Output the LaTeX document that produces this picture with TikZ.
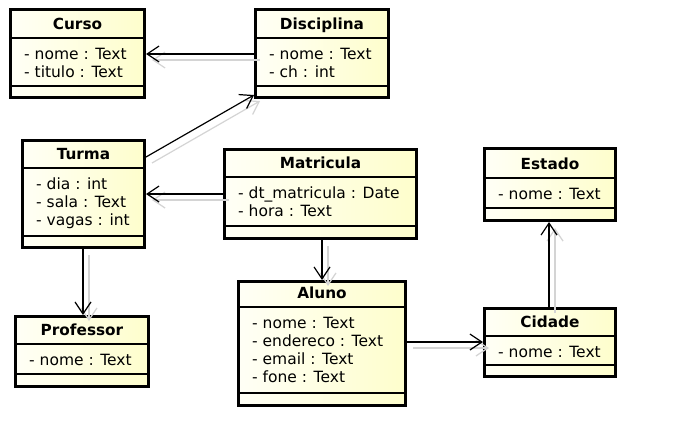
\documentclass[tikz,border=0pt]{standalone}
\usepackage{fontspec}
\setmainfont{DejaVu Sans}
\usetikzlibrary{arrows.meta,backgrounds}
\definecolor{boxshadow}{HTML}{DCDCDC}
\definecolor{lineshadow}{HTML}{D4D4D4}
\definecolor{ylwA}{HTML}{FFFFF6}
\definecolor{ylwB}{HTML}{FEFECC}
\tikzset{
  umlbox/.style={draw=black, line width=3.2pt, left color=ylwA, right color=ylwB, inner sep=0pt},
  sepline/.style={line width=1.2pt},
  titletext/.style={anchor=base, inner sep=0pt, font=\fontsize{15.3}{18}\selectfont\bfseries},
  attrtext/.style={anchor=base west, inner sep=0pt, font=\fontsize{15.5}{18}\selectfont},
  assoc/.style={line width=1.2pt, -{Straight Barb[length=12pt,width=16pt]}},
  assocshadow/.style={assoc, draw=lineshadow},
}
\newcommand\umlclass[9]{%
  \begin{pgfonlayer}{background}
    \fill[boxshadow] (#2+6,#3+6) rectangle (#4+6,#5+6);
  \end{pgfonlayer}
  \node[umlbox, minimum width={#4-#2-3.2}, minimum height={#5-#3-3.2}] (#1) at ({(#2+#4)/2},{(#3+#5)/2}) {};
  \draw[sepline] (#2+1.6,#6) -- (#4-1.6,#6);
  \draw[sepline] (#2+1.6,#7) -- (#4-1.6,#7);
  \node[titletext] (#1-t) at ({(#2+#4)/2},#6-8.5) {#8};
  \foreach \attr [count=\i from 0] in {#9} {\node[attrtext] (#1-a\i) at (#2+15,#6+21+\i*18.3) {\attr};}
}
\newcommand\assocline[3]{% #1 id, #2 from, #3 to
  \coordinate (#1s) at #2;
  \coordinate (#1e) at #3;
  \draw[assocshadow] ([shift={(6,6)}]#1s) -- ([shift={(6,6)}]#1e);
  \draw[assoc] (#1s) -- (#1e);
}
\begin{document}
\begin{tikzpicture}[x=1pt,y=-1pt]
\useasboundingbox[fill=white] (0,0) rectangle (683,431);
\umlclass{curso}{9}{8}{146}{99}{38}{86}{Curso}{- nome : Text,- titulo : Text}
\umlclass{disc}{254}{8}{390}{99}{38}{86}{Disciplina}{- nome : Text,- ch : int}
\umlclass{turma}{21}{139}{146}{249}{168}{236}{Turma}{- dia : int,- sala : Text,- vagas : int}
\umlclass{mat}{223}{148}{418}{240}{177}{226}{Matricula}{- dt\_matricula : Date,- hora : Text}
\umlclass{estado}{483}{147}{617}{222}{178}{208}{Estado}{- nome : Text}
\umlclass{prof}{14}{315}{150}{388}{344}{374}{Professor}{- nome : Text}
\umlclass{aluno}{237}{280}{407}{407}{307}{393}{Aluno}{- nome : Text,- endereco : Text,- email : Text,- fone : Text}
\umlclass{cidade}{483}{307}{617}{378}{336}{365}{Cidade}{- nome : Text}
\assocline{c1}{(disc.west |- 0,54)}{(curso.east |- 0,54)}
\assocline{c2}{(turma.east |- 0,157)}{(disc.west |- 0,95)}
\assocline{c3}{(mat.west |- 0,194)}{(turma.east |- 0,194)}
\assocline{c4}{(turma.south -| 83,0)}{(prof.north -| 83,0)}
\assocline{c5}{(mat.south -| 322,0)}{(aluno.north -| 322,0)}
\assocline{c6}{(aluno.east |- 0,342)}{(cidade.west |- 0,342)}
\assocline{c7}{(cidade.north -| 549,0)}{(estado.south -| 549,0)}
\end{tikzpicture}
\end{document}
